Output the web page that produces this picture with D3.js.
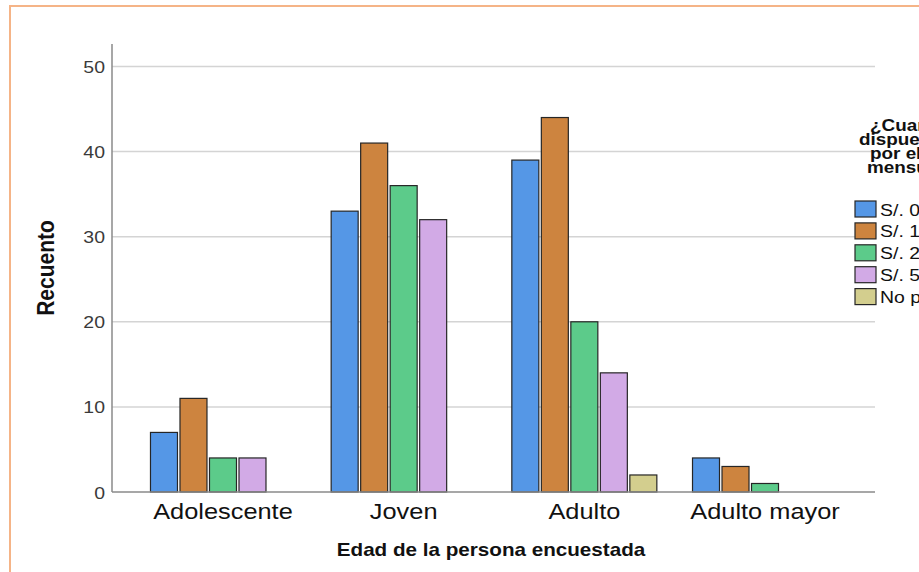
<!DOCTYPE html>
<html>
<head>
<meta charset="utf-8">
<script src="https://cdn.jsdelivr.net/npm/d3@7"></script>
<style>
  body { margin: 0; background: #fff; }
  svg { display: block; font-family: "Liberation Sans", Arial, sans-serif; }
</style>
</head>
<body>
<div id="chart"></div>
<script>
// Data
var ageGroups = ["Adolescente", "Joven", "Adulto", "Adulto mayor"];
var payOptions = ["S/. 0 a S/. 10", "S/. 11 a S/. 20", "S/. 21 a S/. 50", "S/. 51 a más", "No pagaría"];
var counts = [
  [7, 11, 4, 4, 0],     // Adolescente
  [33, 41, 36, 32, 0],  // Joven
  [39, 44, 20, 14, 2],  // Adulto
  [4, 3, 1, 0, 0]       // Adulto mayor
];
var yTicks = [0, 10, 20, 30, 40, 50];
var legendTitle = ["¿Cuanto estaría", "dispuesto a pagar", "por el servicio", "mensualmente?"];

var colors = ["#5597e6", "#cd843f", "#5ccb8a", "#d2aae6", "#d3ce8e"];

var W = 919, H = 572,
    sx = 1.18; // text in the picture is a bit stretched sideways

var svg = d3.select("#chart").append("svg")
  .attr("width", W)
  .attr("height", H);

// orange frame (runs off the right/bottom edge)
svg.append("rect")
  .attr("x", 10).attr("y", 6)
  .attr("width", 1000).attr("height", 1000)
  .attr("fill", "none")
  .attr("stroke", "#f5b487")
  .attr("stroke-width", 2);

var plot = {left: 112, right: 876, top: 44, bottom: 492};

var x0 = d3.scaleBand()
  .domain(ageGroups)
  .range([plot.left, plot.right])
  .paddingInner(0.1974)
  .paddingOuter(0.213);

var x1 = d3.scaleBand()
  .domain(payOptions)
  .range([0, x0.bandwidth()])
  .paddingInner(0.085)
  .paddingOuter(0);

var y = d3.scaleLinear()
  .domain([0, 52.64])
  .range([plot.bottom, plot.top]);

// gridlines
svg.append("g").selectAll("line")
  .data(yTicks.slice(1))
  .enter().append("line")
    .attr("x1", plot.left).attr("x2", plot.right - 1)
    .attr("y1", function(d) { return y(d); })
    .attr("y2", function(d) { return y(d); })
    .attr("stroke", "#d4d4d4")
    .attr("stroke-width", 1.5);

// y axis
var yAxis = d3.axisLeft(y).tickValues(yTicks).tickSize(0).tickPadding(8);
var gy = svg.append("g")
  .attr("transform", "translate(" + plot.left + ",0)")
  .call(yAxis);
gy.select(".domain").remove();
gy.selectAll(".tick text")
  .attr("x", null).attr("dy", null)
  .attr("transform", "translate(-7,6) scale(" + sx + ",1)")
  .attr("fill", "#3a3a3a")
  .style("font-size", "16.5px")
  .style("font-family", "'Liberation Sans', Arial, sans-serif");

svg.append("line")
  .attr("x1", plot.left).attr("x2", plot.left)
  .attr("y1", plot.top).attr("y2", plot.bottom)
  .attr("stroke", "#8a8a8a").attr("stroke-width", 1.5);

// bars
var groups = svg.append("g").selectAll("g")
  .data(counts)
  .enter().append("g")
    .attr("transform", function(d, i) { return "translate(" + x0(ageGroups[i]) + ",0)"; });

groups.selectAll("rect")
  .data(function(d) { return d.map(function(v, j) { return {key: payOptions[j], value: v, i: j}; })
    .filter(function(e) { return e.value > 0; }); })
  .enter().append("rect")
    .attr("x", function(d) { return x1(d.key); })
    .attr("y", function(d) { return y(d.value); })
    .attr("width", x1.bandwidth())
    .attr("height", function(d) { return y(0) - y(d.value); })
    .attr("fill", function(d) { return colors[d.i]; })
    .attr("stroke", "#262626")
    .attr("stroke-width", 1.2);

// x axis line
svg.append("line")
  .attr("x1", plot.left).attr("x2", plot.right - 1)
  .attr("y1", plot.bottom).attr("y2", plot.bottom)
  .attr("stroke", "#8a8a8a").attr("stroke-width", 1.5);

// category labels
svg.append("g").selectAll("text")
  .data(ageGroups)
  .enter().append("text")
    .attr("transform", function(d) {
      return "translate(" + (x0(d) + x0.bandwidth() / 2) + ",519) scale(" + sx + ",1)";
    })
    .attr("text-anchor", "middle")
    .attr("fill", "#111")
    .style("font-size", "21.5px")
    .text(function(d) { return d; });

// axis titles
svg.append("text")
  .attr("transform", "translate(491,556) scale(" + sx + ",1)")
  .attr("text-anchor", "middle")
  .attr("fill", "#111")
  .style("font-size", "17.5px")
  .style("font-weight", "bold")
  .text("Edad de la persona encuestada");

svg.append("text")
  .attr("transform", "translate(54,268) scale(" + sx + ",1) rotate(-90)")
  .attr("text-anchor", "middle")
  .attr("fill", "#111")
  .style("font-size", "21px")
  .style("font-weight", "bold")
  .text("Recuento");

// legend
var legend = svg.append("g");
legend.selectAll("text.title")
  .data(legendTitle)
  .enter().append("text")
    .attr("class", "title")
    .attr("transform", function(d, i) {
      var starts = [870, 859, 870, 867];
      return "translate(" + starts[i] + "," + (131 + i * 14) + ") scale(" + sx + ",1)";
    })
    .attr("fill", "#111")
    .style("font-size", "16px")
    .style("font-weight", "bold")
    .text(function(d) { return d; });

var items = legend.selectAll("g.item")
  .data(payOptions)
  .enter().append("g")
    .attr("class", "item")
    .attr("transform", function(d, i) { return "translate(855," + (201 + i * 21.9) + ")"; });

items.append("rect")
  .attr("width", 21).attr("height", 16)
  .attr("fill", function(d, i) { return colors[i]; })
  .attr("stroke", "#262626")
  .attr("stroke-width", 1.2);

items.append("text")
  .attr("transform", "translate(25,14.5) scale(" + sx + ",1)")
  .attr("fill", "#111")
  .style("font-size", "16.5px")
  .text(function(d) { return d; });
</script>
</body>
</html>
